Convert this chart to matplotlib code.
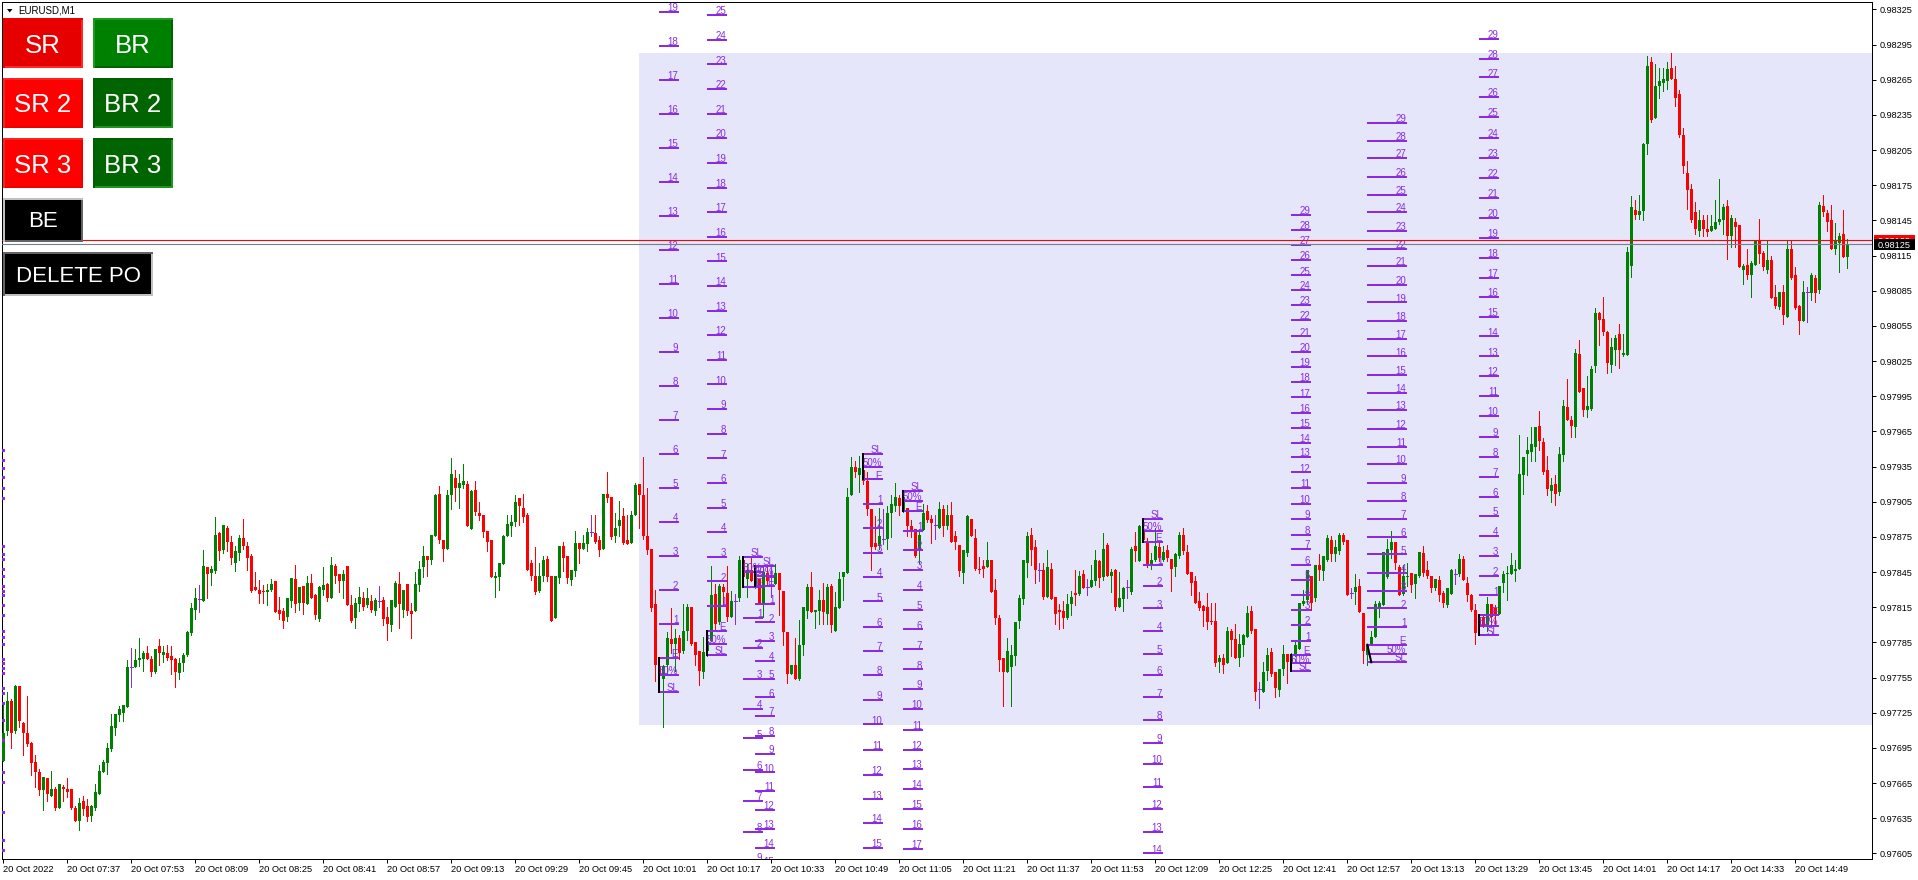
import numpy as np
import matplotlib
matplotlib.use("Agg")
import matplotlib.pyplot as plt
from matplotlib.patches import Rectangle, Polygon

plt.rcParams['font.family'] = ['Liberation Sans', 'DejaVu Sans']

########## Candle data, in 0.00001 above 0.97000, one value per M1 bar ##########
opens = [684,709,735,709,748,716,708,699,683,674,659,669,654,660,644,662,660,660,644,633,
650,645,637,644,656,674,682,694,712,723,725,730,764,764,770,771,776,771,760,782,
774,776,773,771,759,767,774,793,813,822,820,849,844,846,878,864,883,871,853,861,
874,867,859,832,830,829,828,830,837,813,812,807,820,839,819,833,818,836,825,805,
830,835,823,850,843,837,850,817,806,818,823,817,820,812,820,821,807,800,815,835,
813,835,812,812,834,849,859,855,876,912,872,865,911,925,917,919,920,882,915,895,
894,880,872,840,841,852,876,884,888,908,900,894,853,842,829,842,856,842,806,840,
867,859,838,846,870,865,869,879,878,872,865,912,909,876,884,893,872,870,894,920,
911,876,865,818,765,754,766,788,784,789,778,795,815,785,778,760,778,786,826,802,
832,827,807,820,823,855,839,847,832,839,818,844,841,835,844,829,794,758,766,754,
783,812,832,811,812,821,809,833,795,814,841,844,911,935,928,932,923,899,870,867,
873,873,895,901,908,897,900,884,882,864,881,897,890,885,883,899,884,894,876,868,
844,861,890,874,848,850,849,855,830,806,772,760,764,773,803,822,853,877,866,847,
847,824,848,824,813,812,806,818,827,826,843,832,832,837,854,841,868,842,847,815,
822,832,828,867,854,881,871,851,855,866,855,864,856,849,859,877,862,845,837,820,
816,815,803,803,768,772,767,795,788,772,783,790,812,796,745,743,761,777,760,744,
762,775,767,774,779,818,821,842,823,851,846,855,872,860,863,877,872,827,828,833,
810,774,783,790,814,817,841,864,871,849,826,841,844,835,842,861,847,842,831,838,
827,817,826,843,843,856,836,825,813,807,807,800,818,814,809,836,843,843,846,848,
928,946,947,952,970,956,932,914,920,913,945,986,975,969,1031,1002,983,984,1021,1066,
1061,1050,1022,1034,1048,1030,1030,1106,1154,1150,1153,1210,1280,1232,1260,1262,1264,1275,1266,1253,
1218,1185,1172,1152,1136,1145,1138,1136,1138,1144,1145,1157,1132,1144,1141,1103,1107,1098,1107,1127,
1117,1103,1111,1080,1071,1084,1063,1121,1098,1072,1059,1084,1083,1096,1086,1157,1151,1145,1121,1126,
1133,1114]

closes = [708,735,708,748,718,708,698,682,674,659,670,656,660,644,664,660,657,644,633,648,
643,636,645,657,675,683,695,714,724,728,732,764,764,770,772,776,771,760,779,776,
777,772,770,760,767,774,794,814,823,822,850,843,848,877,863,885,871,857,863,874,
867,857,829,830,826,828,830,835,811,809,803,823,840,818,832,819,836,823,808,832,
834,823,851,842,837,843,817,803,819,824,815,823,813,821,820,805,801,821,836,818,
830,812,809,835,848,859,855,877,911,872,865,911,929,917,921,923,884,914,896,893,
879,871,841,842,853,876,886,888,905,901,892,847,842,828,842,855,841,803,842,867,
857,840,847,870,865,870,879,879,871,864,912,908,875,883,889,870,869,894,919,911,
876,864,814,766,757,765,789,784,789,776,795,815,784,774,761,777,786,825,801,833,
828,807,820,820,855,841,847,837,846,818,845,837,841,844,830,794,758,766,754,783,
815,832,811,813,821,811,832,800,815,839,845,909,935,930,934,923,899,866,866,876,
873,895,903,909,901,909,884,881,859,877,895,889,887,885,899,884,894,871,871,846,
864,893,876,848,847,848,855,828,806,770,760,778,774,802,823,855,876,864,847,847,
824,849,822,809,811,806,818,824,825,842,831,832,838,855,840,865,842,845,815,823,
831,832,865,863,884,872,851,855,867,857,862,857,848,860,877,863,843,836,819,814,
812,802,802,767,772,766,795,787,772,784,791,810,795,743,745,760,774,758,746,762,
775,768,773,783,819,820,847,819,851,847,859,874,860,866,877,871,825,827,832,811,
778,783,790,818,819,862,865,871,853,825,842,842,834,843,862,844,842,831,839,825,
819,831,847,843,856,838,825,813,793,799,800,818,807,808,833,843,844,851,848,929,
943,949,954,969,957,930,916,919,912,946,987,975,970,1032,999,983,987,1018,1066,1060,
1050,1023,1037,1045,1034,1032,1118,1156,1150,1153,1210,1277,1231,1260,1264,1266,1274,1266,1249,1218,
1191,1171,1145,1138,1145,1138,1135,1140,1144,1146,1156,1132,1147,1139,1105,1106,1098,1109,1127,1116,
1105,1111,1079,1072,1084,1064,1121,1096,1070,1059,1084,1084,1098,1083,1158,1152,1144,1121,1128,1132,
1114,1125]

highs = [733,743,737,749,748,717,739,700,689,677,670,669,675,662,664,663,669,660,645,652,
654,651,646,664,680,685,699,724,724,731,732,770,780,779,789,778,782,773,779,788,
782,783,782,772,772,776,795,819,831,834,864,849,850,892,879,885,884,876,867,877,
890,871,860,845,838,834,835,839,837,824,814,823,840,851,832,833,842,843,826,833,
849,836,858,852,843,847,850,825,823,832,828,831,825,823,833,824,815,821,837,845,
830,835,819,845,854,867,859,877,912,918,872,915,942,932,929,937,923,915,923,905,
894,880,872,845,853,877,894,894,911,908,912,895,855,866,853,859,859,842,842,867,
871,859,847,880,870,877,883,894,894,876,912,930,909,895,906,900,894,897,921,920,
943,917,865,830,765,766,794,814,796,791,818,818,815,785,778,790,795,850,835,835,
835,850,829,826,859,858,852,857,849,839,849,849,851,852,844,829,794,766,789,804,
815,835,845,813,830,836,835,835,828,845,845,917,943,940,944,936,930,899,893,900,
899,901,911,921,911,912,900,889,882,882,903,902,894,894,905,902,902,905,880,868,
864,894,890,882,858,855,871,855,839,808,772,789,783,802,825,855,879,883,872,853,
853,864,853,824,818,820,826,829,847,846,847,839,851,864,855,878,870,848,848,845,
832,838,866,879,885,887,874,861,883,871,867,868,856,861,879,883,868,845,842,828,
817,827,819,819,774,775,798,796,801,792,792,816,816,796,751,768,780,780,760,762,
783,775,776,786,819,830,847,842,851,860,859,877,876,872,878,878,872,831,843,839,
810,783,795,820,820,862,873,880,871,851,851,853,844,843,862,867,854,842,839,842,
829,831,848,848,860,859,841,826,818,809,809,824,818,817,833,846,850,861,855,962,
943,960,969,969,982,959,944,925,928,952,992,1010,978,1035,1043,1002,1012,1021,1070,1067,
1080,1051,1045,1047,1057,1048,1122,1166,1162,1167,1211,1285,1284,1278,1275,1275,1280,1288,1277,1256,
1224,1196,1176,1161,1154,1150,1150,1150,1162,1180,1159,1162,1150,1147,1141,1108,1121,1110,1128,1146,
1119,1128,1115,1090,1084,1090,1128,1128,1105,1073,1093,1088,1100,1098,1161,1167,1154,1158,1143,1134,
1154,1129]

lows = [684,706,695,708,713,689,697,672,662,655,642,650,654,642,644,650,653,643,633,625,
638,633,633,642,656,674,673,692,706,718,718,730,747,764,765,761,771,756,759,766,
768,770,758,747,754,761,773,791,805,811,820,823,834,844,855,861,863,852,846,855,
865,847,828,830,819,819,817,829,811,805,797,803,815,811,813,809,818,823,805,803,
825,820,823,836,828,823,817,802,797,812,813,815,811,808,815,800,787,795,815,797,
807,808,789,812,829,841,842,852,876,870,854,865,899,906,900,917,884,882,894,889,
875,863,841,824,830,852,876,876,884,885,888,847,838,826,828,837,837,803,806,836,
846,836,834,842,853,865,863,876,870,859,865,905,873,871,876,869,869,870,894,883,
873,860,812,752,753,713,757,776,761,771,776,787,783,766,749,755,773,786,796,801,
817,803,807,801,820,840,824,837,831,818,807,835,824,835,808,783,750,758,754,753,
774,806,811,797,801,801,801,794,795,814,821,844,911,926,913,920,894,847,865,865,
869,865,875,897,894,896,876,875,858,853,881,888,870,873,883,876,882,871,865,842,
836,859,876,847,844,841,849,828,801,761,731,760,731,766,797,818,841,851,836,837,
822,824,822,801,796,797,805,808,817,825,831,825,832,834,832,838,842,828,813,815,
812,823,826,854,854,871,849,848,854,854,854,854,829,842,857,860,843,825,819,813,
799,796,801,765,760,759,767,773,772,765,773,790,793,736,729,743,753,756,738,739,
757,750,765,773,779,817,819,813,820,838,838,854,854,854,860,869,825,823,818,811,
767,766,783,790,807,817,840,857,848,825,825,833,828,823,841,842,840,828,830,820,
815,815,826,835,842,838,820,812,784,794,798,795,800,801,809,828,821,843,837,848,
912,928,940,940,949,929,911,905,902,911,940,975,960,960,999,978,977,983,1016,1039,
1047,1015,1016,1022,1019,1029,1030,1097,1146,1146,1145,1202,1229,1232,1249,1255,1257,1266,1243,1216,
1185,1155,1144,1133,1132,1132,1132,1136,1138,1142,1133,1112,1122,1122,1105,1091,1095,1080,1107,1109,
1103,1100,1079,1070,1069,1057,1063,1095,1069,1048,1059,1058,1077,1075,1083,1149,1136,1121,1116,1101,
1114,1104]

date_labels = ["20 Oct 2022","20 Oct 07:37","20 Oct 07:53","20 Oct 08:09","20 Oct 08:25","20 Oct 08:41",
"20 Oct 08:57","20 Oct 09:13","20 Oct 09:29","20 Oct 09:45","20 Oct 10:01","20 Oct 10:17","20 Oct 10:33",
"20 Oct 10:49","20 Oct 11:05","20 Oct 11:21","20 Oct 11:37","20 Oct 11:53","20 Oct 12:09","20 Oct 12:25",
"20 Oct 12:41","20 Oct 12:57","20 Oct 13:13","20 Oct 13:29","20 Oct 13:45","20 Oct 14:01","20 Oct 14:17",
"20 Oct 14:33","20 Oct 14:49"]
price_labels = ["0.98325","0.98295","0.98265","0.98235","0.98205","0.98175","0.98145","0.98115","0.98085",
"0.98055","0.98025","0.97995","0.97965","0.97935","0.97905","0.97875","0.97845","0.97815","0.97785",
"0.97755","0.97725","0.97695","0.97665","0.97635","0.97605"]

########## Trade ladders: SL, 50%, E, then target 1, 2, 3 ... ##########
ladder_a = [743,757,772,801,830,859,888,917,946,975,1004,1033,1062,1091,1120,1149,1178,1207,1236,1265,1294,1323]
ladder_b = [774,784,795,816,837,858,879,900,921,942,963,984,1005,1026,1047,1068,1089,1110,1131,1152,1173,1194,1215,1236,1257,1278,1299,1320]
ladder_c = [858,845,832,806,780,754,728,703,676,650,623,598]
ladder_d = [850,842,833,818,802,786,769,754,738,722,705,690,674,658,642,626,610,594]
ladder_e = [946,935,924,903,883,861,841,820,798,778,757,736,715,693,672,651,631,610]
ladder_f = [914,906,897,880,864,847,830,813,796,779,762,745,728,710,693,677,660,643,626,609]
ladder_g = [890,880,871,851,833,814,795,775,757,738,719,699,681,662,643,623,605]
ladder_h = [761,767,774,786,800,813,825,838,851,865,877,890,903,917,930,943,955,968,981,994,1007,1020,1033,1046,1060,1073,1086,1098,1111,1124,1137,1150]
ladder_i = [768,775,783,798,814,829,844,860,875,890,906,921,937,952,967,983,998,1013,1029,1044,1059,1075,1090,1106,1121,1136,1152,1167,1182,1198,1213,1228]
ladder_j = [791,799,808,825,842,859,876,893,909,926,943,960,978,995,1012,1029,1046,1063,1080,1096,1113,1130,1147,1164,1181,1198,1215,1233,1250,1267,1283,1300]

ladders = [ladder_a, ladder_b, ladder_c, ladder_d, ladder_e, ladder_f, ladder_g, ladder_h, ladder_i, ladder_j]
ladder_start = [164, 176, 185, 188, 215, 225, 285, 322, 341, 369]
ladder_end = [169, 181, 190, 193, 220, 230, 290, 327, 351, 374]
sl_bar = [164, 176, 185, 188, 215, 225, 285, 322, 342, 369]

# Small leftovers on the left border of the chart
left_marks = [949,941,934,926,917,908,867,860,856,848,842,833,829,825,817,808,795,790,784,771,767,763,759,
746,742,733,719,702,674,666,640,616,608]

shade_low, shade_high = 714.5, 1288
bid, ask = 1125, 1128
ymin, ymax = 600.2, 1331.3


# Convert stored values to prices
def price(v):
	return 0.97 + np.asarray(v) / 100000


# Pixel box on the figure
def box(x0, y0, x1, y1, color, z=5):
	fig.add_artist(Rectangle((x0 / 1918, 1 - y1 / 880), (x1 - x0) / 1918, (y1 - y0) / 880, transform=fig.transFigure,
		facecolor=color, edgecolor="none", antialiased=False, zorder=z))


# Button with a two coloured border
def button(x0, y0, x1, y1, fill, tl, br, label, size, shift):
	box(x0, y0, x1, y1, tl)
	box(x0 + 2, y0 + 2, x1, y1, br)
	box(x0 + 2, y0 + 2, x1 - 2, y1 - 2, fill)
	fig.text((x0 + x1) / 2 / 1918, 1 - ((y0 + y1) / 2 + shift) / 880, label, color="white", fontsize=size,
		ha="center", va="center", zorder=6)


fig = plt.figure(figsize=(19.18, 8.80), dpi=100)
ax = fig.add_axes([2 / 1918, 21 / 880, 1870 / 1918, 857 / 880])

########## Candles ##########
o = np.array(opens)
c = np.array(closes)
x = np.arange(len(o))
green = "#008000"
red = "#ff0000"
violet = "#8a2be2"

up = c > o
down = c < o
doji = c == o

ax.add_patch(Rectangle((158.9, price(shade_low)), 320, price(shade_high) - price(shade_low),
	facecolor="#e6e6fa", edgecolor="none", zorder=1))

wick_colors = np.where(up, green, np.where(down, red, violet))
ax.vlines(x, price(lows), price(highs), colors=wick_colors, linewidth=0.72, antialiaseds=False, zorder=2)
ax.bar(x[up], price(c[up]) - price(o[up]), bottom=price(o[up]), width=0.75, color=green, linewidth=0, antialiased=False, zorder=3)
ax.bar(x[down], price(o[down]) - price(c[down]), bottom=price(c[down]), width=0.75, color=red, linewidth=0, antialiased=False, zorder=3)
ax.hlines(price(o[doji]), x[doji] - 0.375, x[doji] + 0.375, colors=violet, linewidth=0.72, antialiaseds=False, zorder=3)

########## Ladders ##########
for levels, start, end, sl in zip(ladders, ladder_start, ladder_end, sl_bar):
	names = ["SL", "50%", "E"] + [str(n + 1) for n in range(len(levels) - 3)]
	ax.hlines(price(levels), start, end, colors=violet, linewidth=1.44, antialiaseds=False, zorder=4)
	ax.plot([sl, start], price([levels[0], levels[2]]), color="black", linewidth=1.44, zorder=5)
	for level, name in zip(levels, names):
		ax.annotate(name, (end, price(level)), xytext=(-0.8, 0.6), textcoords="offset points", color=violet,
			fontsize=7, ha="right", va="baseline", annotation_clip=False, clip_on=True, zorder=6)

ax.hlines(price(left_marks), -0.33, 0.2, colors=violet, linewidth=1, antialiaseds=False, zorder=4)

ax.axhline(price(ask), color="#ff0000", linewidth=0.8, zorder=7)
ax.axhline(price(bid), color="#708090", linewidth=0.8, zorder=7)

########## Axes ##########
ax.set_xlim(-0.33, 467.17)
ax.set_ylim(price(ymin), price(ymax))
ax.set_xticks(np.arange(len(date_labels)) * 16)
ax.set_xticklabels(date_labels, ha="left", fontsize=6.7)
ax.yaxis.tick_right()
ax.set_yticks([float(p) for p in price_labels])
ax.set_yticklabels(price_labels, fontsize=6.6)
ax.tick_params(axis="x", length=3, width=0.72, pad=1.5)
ax.tick_params(axis="y", length=3, width=0.72, pad=2.5)
for spine in ax.spines.values():
	spine.set_linewidth(0.72)

########## Chart header and buttons ##########
fig.add_artist(Polygon([(7 / 1918, 1 - 9 / 880), (12.5 / 1918, 1 - 9 / 880), (9.75 / 1918, 1 - 12.5 / 880)],
	transform=fig.transFigure, facecolor="black", edgecolor="none", zorder=5))
fig.text(18 / 1918, 1 - 10.5 / 880, "EURUSD,M1", fontsize=7, color="black", ha="left", va="center")

button(3, 18, 83, 68, "#e60000", "#ee0000", "#ff2828", "SR", 18.5, 3)
button(93, 18, 173, 68, "#008000", "#1e9a1e", "#006400", "BR", 18.5, 3)
button(3, 78, 83, 128, "#ff0000", "#ff2020", "#ee0000", "SR 2", 18.5, 2)
button(93, 78, 173, 128, "#006400", "#006000", "#1e961e", "BR 2", 18.5, 2)
button(3, 138, 83, 188, "#ff0000", "#ff2020", "#ee0000", "SR 3", 18.5, 3)
button(93, 138, 173, 188, "#006400", "#006000", "#1e961e", "BR 3", 18.5, 3)
button(3, 198, 83, 242, "black", "#c0c0c0", "#646464", "BE", 16, 1.5)
button(3, 252, 153, 296, "black", "#646464", "#c0c0c0", "DELETE PO", 16, 2)

# Price tags next to the axis
box(1874, 235, 1915, 247, "#ff0000")
fig.text(1878 / 1918, 1 - 241 / 880, "0.98128", fontsize=6.6, color="white", ha="left", va="center", zorder=6)
box(1874, 239, 1915, 250, "black", z=7)
fig.text(1878 / 1918, 1 - 245 / 880, "0.98125", fontsize=6.6, color="white", ha="left", va="center", zorder=8)

fig.savefig("out.png", dpi=100)
